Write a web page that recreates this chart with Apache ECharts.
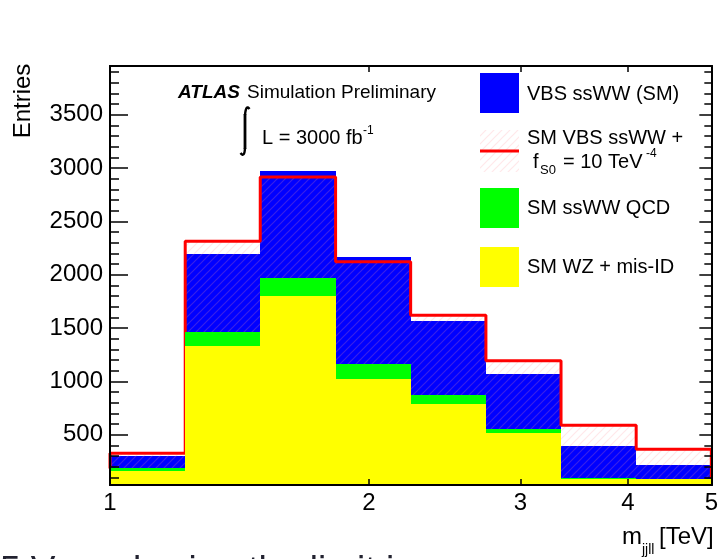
<!DOCTYPE html>
<html>
<head>
<meta charset="utf-8">
<script src="https://cdn.jsdelivr.net/npm/echarts@6/dist/echarts.min.js"></script>
<style>
html, body { margin: 0; padding: 0; background: #fff; }
#chart { width: 721px; height: 559px; }
</style>
</head>
<body>
<div id="chart"></div>
<script>
// bins in m_jjll [TeV], equal width in log scale
var binEdges = [1, 1.223, 1.495, 1.829, 2.236, 2.735, 3.344, 4.089, 5];
// per-bin contributions (entries), stacked bottom to top
var wzMisId = [162, 1334, 1803, 1028, 785, 513, 84, 84];
var ssWWQCD = [23, 126, 169, 141, 93, 40, 13, 5];
var vbsSM = [115, 731, 1000, 999, 688, 522, 300, 133];
var vbsFS0 = [143, 856, 946, 953, 744, 641, 494, 277];
var yLabels = [500, 1000, 1500, 2000, 2500, 3000, 3500];
var xLabels = [1, 2, 3, 4, 5];

var FONT = 'Liberation Sans';
var chart = echarts.init(document.getElementById('chart'));

var yMinor = [];
for (var t = 100; t < 4000; t += 100) {
  if (t % 500) yMinor.push(t);
}

// stacks
var yellowTop = wzMisId.slice();
var greenTop = yellowTop.map(function (v, i) { return v + ssWWQCD[i]; });
var blueTop = greenTop.map(function (v, i) { return v + vbsSM[i]; });
var redTop = greenTop.map(function (v, i) { return v + vbsFS0[i]; });

function bars(base, top) {
  return top.map(function (v, i) { return [binEdges[i], binEdges[i + 1], base[i], v]; });
}
var zeros = wzMisId.map(function () { return 0; });

// red outline as a step line
var redLine = [[binEdges[0], greenTop[0]]];
redTop.forEach(function (v, i) { redLine.push([binEdges[i], v]); });
redLine.push([binEdges[binEdges.length - 1], redTop[redTop.length - 1]]);
redLine.push([binEdges[binEdges.length - 1], greenTop[greenTop.length - 1]]);

// hatch pattern
var hatch = document.createElement('canvas');
hatch.width = 8; hatch.height = 8;
var g = hatch.getContext('2d');
g.strokeStyle = 'rgba(255,150,160,0.22)';
g.lineWidth = 1.2;
g.beginPath();
g.moveTo(0, 8); g.lineTo(8, 0);
g.moveTo(-4, 4); g.lineTo(4, -4);
g.moveTo(4, 12); g.lineTo(12, 4);
g.stroke();
var hatchFill = { image: hatch, repeat: 'repeat' };

function rectItem(fill) {
  return function (params, api) {
    var p0 = api.coord([api.value(0), api.value(3)]);
    var p1 = api.coord([api.value(1), api.value(2)]);
    var x0 = Math.round(p0[0]), x1 = Math.round(p1[0]);
    var y0 = Math.round(p0[1]), y1 = Math.round(p1[1]);
    return {
      type: 'rect',
      shape: { x: x0, y: y0, width: x1 - x0, height: y1 - y0 },
      style: { fill: fill }
    };
  };
}

function histSeries(name, data, fill, z) {
  return {
    name: name,
    type: 'custom',
    clip: true,
    z: z,
    renderItem: rectItem(fill),
    encode: { x: [0, 1], y: [2, 3] },
    data: data,
    silent: true
  };
}

function yAxisDef(pos, ticks, len, labels) {
  return {
    type: 'value', min: 30, max: 3958, position: pos, z: 10,
    axisLine: { show: true, onZero: false, lineStyle: { color: '#000', width: 2 } },
    axisTick: { show: true, inside: true, length: len, customValues: ticks, lineStyle: { color: '#000', width: 1.5 } },
    axisLabel: labels ? {
      customValues: labels, fontSize: 24, fontFamily: FONT, color: '#000', margin: 7,
      formatter: function (v) { return String(v); }
    } : { show: false },
    splitLine: { show: false }
  };
}

function xAxisDef(pos, ticks, labels) {
  return {
    type: 'log', logBase: 10, min: 1, max: 5, position: pos, z: 10,
    axisLine: { show: true, onZero: false, lineStyle: { color: '#000', width: 2 } },
    axisTick: { show: true, inside: true, length: 6, customValues: ticks, lineStyle: { color: '#000', width: 1.5 } },
    axisLabel: labels ? {
      customValues: labels, fontSize: 24, fontFamily: FONT, color: '#000', margin: 6,
      formatter: function (v) { return String(Math.round(v)); }
    } : { show: false },
    splitLine: { show: false }
  };
}

function txt(x, y, s, size, extra) {
  var st = { text: s, fontSize: size, fontFamily: FONT, fill: '#000', align: 'left', verticalAlign: 'middle' };
  if (extra) for (var k in extra) st[k] = extra[k];
  return { type: 'text', x: x, y: y, style: st, z: 20 };
}

var option = {
  animation: false,
  backgroundColor: '#fff',
  grid: { left: 110, right: 2, top: 66, bottom: 74, containLabel: false },
  xAxis: [xAxisDef('bottom', xLabels, xLabels), xAxisDef('top', [2, 3, 4], null)],
  yAxis: [
    yAxisDef('left', yLabels, 18, yLabels),
    yAxisDef('left', yMinor, 9, null),
    yAxisDef('right', yLabels, 12, null),
    yAxisDef('right', yMinor, 7, null)
  ],
  series: [
    histSeries('VBS ssWW (SM)', bars(greenTop, blueTop), '#0000ff', 2),
    histSeries('SM VBS ssWW + fS0', bars(greenTop, redTop), hatchFill, 3),
    {
      name: 'SM VBS ssWW + fS0 line',
      type: 'line',
      step: 'end',
      z: 4,
      showSymbol: false,
      silent: true,
      lineStyle: { color: '#ff0000', width: 3 },
      data: redLine
    },
    histSeries('SM ssWW QCD', bars(yellowTop, greenTop), '#00ff00', 5),
    histSeries('SM WZ + mis-ID', bars(zeros, yellowTop), '#ffff00', 5)
  ],
  graphic: [
    // axis titles
    { type: 'text', x: 23, y: 101, rotation: Math.PI / 2, z: 20,
      style: { text: 'Entries', fontSize: 24, fontFamily: FONT, fill: '#000', align: 'center', verticalAlign: 'middle' } },
    txt(622, 537, 'm', 24),
    txt(642, 550, 'jjll', 14),
    txt(659, 537, '[TeV]', 24),
    // ATLAS label
    txt(178, 93, 'ATLAS', 19, { fontStyle: 'italic', fontWeight: 'bold' }),
    txt(247, 93, 'Simulation Preliminary', 19),
    { type: 'bezierCurve', z: 20, shape: { x1: 249.5, y1: 109, x2: 245, y2: 115, cpx1: 246, cpy1: 104 },
      style: { stroke: '#000', lineWidth: 2.4, fill: null } },
    { type: 'line', z: 20, shape: { x1: 245, y1: 114, x2: 245, y2: 149 },
      style: { stroke: '#000', lineWidth: 2.8 } },
    { type: 'bezierCurve', z: 20, shape: { x1: 245, y1: 148, x2: 240.5, y2: 153, cpx1: 244.5, cpy1: 158 },
      style: { stroke: '#000', lineWidth: 2.4, fill: null } },
    txt(262, 138, 'L = 3000 fb', 20),
    txt(363, 131, '-1', 12),
    // legend
    { type: 'rect', z: 20, shape: { x: 480, y: 73, width: 39, height: 40 }, style: { fill: '#0000ff' } },
    txt(527, 94, 'VBS ssWW (SM)', 20),
    { type: 'rect', z: 20, shape: { x: 480, y: 130, width: 39, height: 42 }, style: { fill: hatchFill } },
    { type: 'line', z: 21, shape: { x1: 480, y1: 151, x2: 519, y2: 151 }, style: { stroke: '#ff0000', lineWidth: 3 } },
    txt(527, 138, 'SM VBS ssWW +', 20),
    txt(533, 162, 'f', 20),
    txt(540, 170, 'S0', 13),
    txt(563, 162, '= 10 TeV', 20),
    txt(646, 154, '-4', 12),
    { type: 'rect', z: 20, shape: { x: 480, y: 188, width: 39, height: 40 }, style: { fill: '#00ff00' } },
    txt(527, 208, 'SM ssWW QCD', 20),
    { type: 'rect', z: 20, shape: { x: 480, y: 247, width: 39, height: 40 }, style: { fill: '#ffff00' } },
    txt(527, 267, 'SM WZ + mis-ID', 20),
    // slide text cut off at the bottom
    txt(0, 572, '5 Vary slowing the limit in', 37, { fill: '#222230' })
  ]
};

chart.setOption(option);
</script>
</body>
</html>
